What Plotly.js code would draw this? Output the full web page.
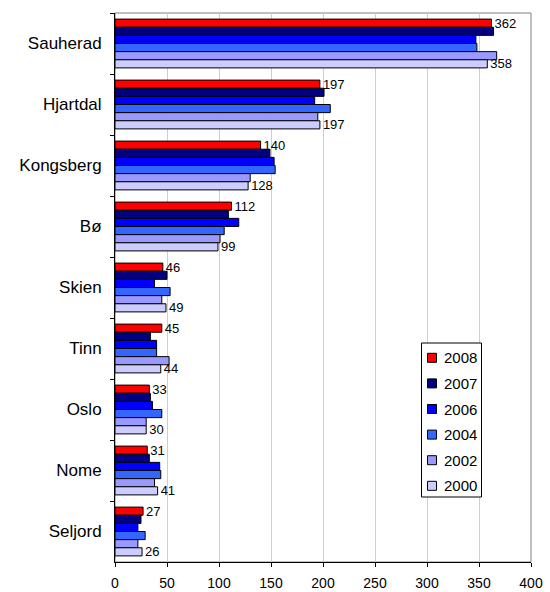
<!DOCTYPE html>
<html>
<head>
<meta charset="utf-8">
<script src="https://cdn.plot.ly/plotly-3.0.1.min.js"></script>
<style>html,body{margin:0;padding:0;background:#fff;}#chart{width:550px;height:592px;}</style>
</head>
<body>
<div id="chart"></div>
<script>
var categories = ["Sauherad","Hjartdal","Kongsberg","Bø","Skien","Tinn","Oslo","Nome","Seljord"];
var years = ["2008","2007","2006","2004","2002","2000"];
var v2008 = [362,197,140,112,46,45,33,31,27];
var v2007 = [364,201,149,109,50,34,34,33,25];
var v2006 = [347,192,153,119,38,40,36,43,22];
var v2004 = [348,207,154,105,53,40,45,44,29];
var v2002 = [367,195,130,101,45,52,30,38,22];
var v2000 = [358,197,128,99,49,44,30,41,26];
var seriesValues = [v2008,v2007,v2006,v2004,v2002,v2000];
var colors = ["#ff0000","#000080","#0000ff","#3366ff","#9999ff","#ccccff"];
var labelled = [true,false,false,false,false,true];

var FONT = 'Liberation Sans, Arial, sans-serif';

var traces = seriesValues.map(function(vals,i){
  var t = {
    type:'bar', orientation:'h', name:years[i],
    x: vals, y: categories,
    marker:{color:colors[i], line:{color:'#000000', width:1}},
    hoverinfo:'x+name'
  };
  if(labelled[i]){
    t.text = vals.map(String);
    t.textposition = 'outside';
    t.constraintext = 'none';
    t.cliponaxis = false;
    t.textfont = {family:FONT, size:13, color:'#000'};
  } else {
    t.textposition = 'none';
  }
  return t;
});

// custom legend (box, swatches, labels) in paper coordinates
var W = 550, H = 592, ML = 115, MR = 19, MT = 13, MB = 30;
var PW = W - ML - MR, PH = H - MT - MB;
function px2x(p){ return (p - ML) / PW; }
function px2y(p){ return 1 - (p - MT) / PH; }

var shapes = [{type:'rect', xref:'paper', yref:'paper', x0:0, x1:1, y0:0, y1:1,
               line:{color:'#808080', width:1}, layer:'below'}];
shapes.push({type:'rect', xref:'paper', yref:'paper',
             x0:px2x(421.5), x1:px2x(481.5), y0:px2y(497), y1:px2y(343),
             fillcolor:'#ffffff', line:{color:'#000', width:1}, layer:'above'});
var annotations = [];
years.forEach(function(yr,i){
  var cy = 357.8 + 25.6*i;
  shapes.push({type:'rect', xref:'paper', yref:'paper',
               x0:px2x(427.5), x1:px2x(436.5), y0:px2y(cy+4.5), y1:px2y(cy-4.5),
               fillcolor:colors[i], line:{color:'#000', width:1}, layer:'above'});
  annotations.push({xref:'paper', yref:'paper', x:px2x(442), y:px2y(cy),
                    xanchor:'left', yanchor:'middle', showarrow:false, text:yr,
                    font:{family:FONT, size:15, color:'#000'}});
});

var layout = {
  width:W, height:H,
  margin:{l:ML, r:MR, t:MT, b:MB},
  paper_bgcolor:'#fff', plot_bgcolor:'#fff',
  barmode:'group', bargap:0.2, bargroupgap:0,
  font:{family:FONT, size:12, color:'#000'},
  xaxis:{range:[0,400], dtick:50, tick0:0, showgrid:true, gridcolor:'#c8c8ff', gridwidth:1,
         zeroline:false, showline:true, linecolor:'#000', linewidth:1,
         ticks:'outside', ticklen:4, tickcolor:'#000', tickfont:{size:14},
         ticklabelstandoff:4, fixedrange:true},
  yaxis:{autorange:'reversed', type:'category', showgrid:false, zeroline:false,
         showline:true, linecolor:'#000', linewidth:1,
         ticks:'outside', ticklen:4, tickcolor:'#000', tickson:'boundaries',
         tickfont:{size:17}, ticklabelstandoff:9, fixedrange:true},
  showlegend:false,
  shapes:shapes,
  annotations:annotations
};

Plotly.newPlot('chart', traces, layout, {displayModeBar:false, staticPlot:true});
</script>
</body>
</html>
